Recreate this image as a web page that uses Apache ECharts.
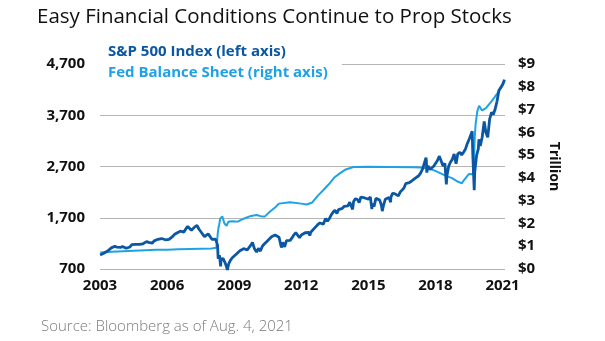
<!DOCTYPE html>
<html><head><meta charset="utf-8">
<script src="https://cdn.jsdelivr.net/npm/echarts@6/dist/echarts.min.js"></script>
<style>html,body{margin:0;padding:0;background:#fff}#c{width:605px;height:341px}</style>
</head><body><div id="c"></div>
<script>
const titleText = 'Easy Financial Conditions Continue to Prop Stocks';
const sourceText = 'Source: Bloomberg as of Aug. 4, 2021';
const seriesNames = ['S&P 500 Index (left axis)', 'Fed Balance Sheet (right axis)'];
const rightAxisName = 'Trillion';
const xTickYears = [2003, 2006, 2009, 2012, 2015, 2018, 2021];
const leftTicks = [700, 1700, 2700, 3700, 4700];
const rightTicks = [0, 1, 2, 3, 4, 5, 6, 7, 8, 9];

// S&P 500 closes [date, level]
const spx = [
['2003-07-01',975],['2003-07-31',990],['2003-08-29',1008],['2003-09-30',996],['2003-10-31',1051],['2003-11-28',1058],['2003-12-31',1112],
['2004-01-30',1131],['2004-02-27',1145],['2004-03-31',1126],['2004-04-30',1107],['2004-05-28',1121],['2004-06-30',1141],['2004-07-30',1102],['2004-08-31',1104],['2004-09-30',1115],['2004-10-29',1130],['2004-11-30',1174],['2004-12-31',1212],
['2005-01-31',1181],['2005-02-28',1204],['2005-03-31',1181],['2005-04-29',1157],['2005-05-31',1192],['2005-06-30',1191],['2005-07-29',1234],['2005-08-31',1220],['2005-09-30',1229],['2005-10-31',1207],['2005-11-30',1249],['2005-12-30',1248],
['2006-01-31',1280],['2006-02-28',1281],['2006-03-31',1295],['2006-04-28',1311],['2006-05-31',1270],['2006-06-30',1270],['2006-07-31',1277],['2006-08-31',1304],['2006-09-29',1336],['2006-10-31',1378],['2006-11-30',1401],['2006-12-29',1418],
['2007-01-31',1438],['2007-02-28',1407],['2007-03-30',1421],['2007-04-30',1482],['2007-05-31',1531],['2007-06-29',1503],['2007-07-31',1455],['2007-08-31',1474],['2007-09-28',1527],['2007-10-09',1565],['2007-10-31',1549],['2007-11-30',1481],['2007-12-31',1468],
['2008-01-31',1379],['2008-02-29',1331],['2008-03-31',1323],['2008-04-30',1386],['2008-05-30',1400],['2008-06-30',1280],['2008-07-31',1267],['2008-08-29',1283],['2008-09-30',1166],['2008-10-10',899],['2008-10-31',969],['2008-11-20',752],['2008-11-28',896],['2008-12-31',903],
['2009-01-30',826],['2009-02-27',735],['2009-03-09',677],['2009-03-31',798],['2009-04-30',873],['2009-05-29',919],['2009-06-30',919],['2009-07-31',987],['2009-08-31',1021],['2009-09-30',1057],['2009-10-30',1036],['2009-11-30',1096],['2009-12-31',1115],
['2010-01-29',1074],['2010-02-26',1104],['2010-03-31',1169],['2010-04-23',1217],['2010-04-30',1187],['2010-05-28',1089],['2010-06-30',1031],['2010-07-02',1022],['2010-07-30',1102],['2010-08-31',1049],['2010-09-30',1141],['2010-10-29',1183],['2010-11-30',1181],['2010-12-31',1258],
['2011-01-31',1286],['2011-02-28',1327],['2011-03-31',1326],['2011-04-29',1364],['2011-05-31',1345],['2011-06-30',1321],['2011-07-29',1292],['2011-08-08',1119],['2011-08-31',1219],['2011-09-30',1131],['2011-10-03',1099],['2011-10-31',1253],['2011-11-30',1247],['2011-12-30',1258],
['2012-01-31',1312],['2012-02-29',1366],['2012-03-30',1408],['2012-04-30',1398],['2012-05-31',1310],['2012-06-01',1278],['2012-06-29',1362],['2012-07-31',1379],['2012-08-31',1407],['2012-09-28',1441],['2012-10-31',1412],['2012-11-15',1353],['2012-11-30',1416],['2012-12-31',1426],
['2013-01-31',1498],['2013-02-28',1515],['2013-03-28',1569],['2013-04-30',1598],['2013-05-31',1631],['2013-06-24',1573],['2013-06-28',1606],['2013-07-31',1686],['2013-08-30',1633],['2013-09-30',1682],['2013-10-31',1757],['2013-11-29',1806],['2013-12-31',1848],
['2014-01-31',1783],['2014-02-28',1859],['2014-03-31',1872],['2014-04-30',1884],['2014-05-30',1924],['2014-06-30',1960],['2014-07-31',1931],['2014-08-29',2003],['2014-09-30',1972],['2014-10-15',1862],['2014-10-31',2018],['2014-11-28',2068],['2014-12-31',2059],
['2015-01-30',1995],['2015-02-27',2105],['2015-03-31',2068],['2015-04-30',2086],['2015-05-29',2107],['2015-06-30',2063],['2015-07-31',2104],['2015-08-25',1868],['2015-08-31',1972],['2015-09-30',1920],['2015-10-30',2079],['2015-11-30',2080],['2015-12-31',2044],
['2016-01-29',1940],['2016-02-11',1829],['2016-02-29',1932],['2016-03-31',2060],['2016-04-29',2065],['2016-05-31',2097],['2016-06-27',2001],['2016-06-30',2099],['2016-07-29',2174],['2016-08-31',2171],['2016-09-30',2168],['2016-10-31',2126],['2016-11-30',2199],['2016-12-30',2239],
['2017-01-31',2279],['2017-02-28',2364],['2017-03-31',2363],['2017-04-28',2384],['2017-05-31',2412],['2017-06-30',2423],['2017-07-31',2470],['2017-08-31',2472],['2017-09-29',2519],['2017-10-31',2575],['2017-11-30',2648],['2017-12-29',2674],
['2018-01-26',2873],['2018-01-31',2824],['2018-02-08',2581],['2018-02-28',2714],['2018-03-29',2641],['2018-04-30',2648],['2018-05-31',2705],['2018-06-29',2718],['2018-07-31',2816],['2018-08-31',2902],['2018-09-20',2931],['2018-09-28',2914],['2018-10-31',2712],['2018-11-30',2760],['2018-12-24',2351],['2018-12-31',2507],
['2019-01-31',2704],['2019-02-28',2784],['2019-03-29',2834],['2019-04-30',2946],['2019-05-31',2752],['2019-06-28',2942],['2019-07-31',2980],['2019-08-30',2926],['2019-09-30',2977],['2019-10-31',3038],['2019-11-29',3141],['2019-12-31',3231],
['2020-01-31',3226],['2020-02-19',3386],['2020-02-28',2954],['2020-03-23',2237],['2020-03-31',2585],['2020-04-30',2912],['2020-05-29',3044],['2020-06-08',3232],['2020-06-30',3100],['2020-07-31',3271],['2020-09-02',3580],['2020-09-30',3363],['2020-10-30',3270],['2020-11-30',3622],['2020-12-31',3756],
['2021-01-29',3714],['2021-02-26',3811],['2021-03-31',3973],['2021-04-30',4181],['2021-05-28',4204],['2021-06-30',4298],['2021-07-30',4395],['2021-08-04',4402]
];

// Fed balance sheet, $ trillion [date, value]
const fed = [
['2003-07-02',0.72],['2004-01-07',0.76],['2004-07-07',0.78],['2005-01-05',0.80],['2005-07-06',0.82],['2006-01-04',0.84],['2006-07-05',0.85],
['2007-01-03',0.87],['2007-07-04',0.88],['2008-01-02',0.89],['2008-06-25',0.90],['2008-09-10',0.93],['2008-09-17',1.11],['2008-09-24',1.22],
['2008-10-01',1.50],['2008-10-15',1.80],['2008-10-29',1.97],['2008-11-12',2.21],['2008-12-17',2.31],['2008-12-31',2.24],['2009-01-21',2.00],
['2009-02-25',1.90],['2009-03-25',2.07],['2009-05-27',2.10],['2009-08-26',2.08],['2009-10-28',2.17],['2009-12-30',2.24],['2010-03-31',2.33],
['2010-06-30',2.37],['2010-09-29',2.30],['2010-11-10',2.30],['2011-01-26',2.50],['2011-04-27',2.70],['2011-06-29',2.87],['2011-12-28',2.93],
['2012-06-27',2.87],['2012-09-26',2.83],['2012-12-26',2.92],['2013-03-27',3.22],['2013-06-26',3.47],['2013-09-25',3.73],['2013-12-25',4.03],
['2014-03-26',4.21],['2014-06-25',4.37],['2014-10-29',4.48],['2015-06-24',4.49],['2016-06-29',4.48],['2017-06-28',4.47],['2017-10-25',4.46],
['2018-03-28',4.40],['2018-06-27',4.31],['2018-12-26',4.08],['2019-03-27',3.99],['2019-06-26',3.84],['2019-09-04',3.76],['2019-09-25',3.86],
['2019-12-25',4.17],['2020-02-26',4.16],['2020-03-11',4.31],['2020-03-18',4.67],['2020-03-25',5.25],['2020-04-01',5.81],['2020-04-15',6.37],
['2020-05-13',6.93],['2020-06-10',7.17],['2020-07-29',6.96],['2020-09-30',7.06],['2020-12-30',7.36],['2021-03-31',7.69],['2021-06-30',8.06],['2021-08-04',8.25]
];

const xStart = 2003.49, xEnd = 2021.6;
function toYear(s) {
  const p = s.split('-').map(Number);
  const a = Date.UTC(p[0], 0, 1), b = Date.UTC(p[0] + 1, 0, 1);
  return p[0] + (Date.UTC(p[0], p[1] - 1, p[2]) - a) / (b - a);
}
const FONT = '"Open Sans", "Noto Sans", sans-serif';
const C_SPX = '#0b57a3', C_FED = '#1ea2e6';

const chart = echarts.init(document.getElementById('c'), null, {renderer: 'canvas'});
chart.setOption({
  animation: false,
  backgroundColor: '#fff',
  title: [
    {text: titleText, left: 32, top: 2, textStyle: {fontFamily: FONT, fontSize: 20.5, fontWeight: 'normal', color: '#111'}},
    {text: sourceText, left: 36, top: 314, textStyle: {fontFamily: FONT, fontSize: 15, fontWeight: 300, color: '#7a7a7a'}}
  ],
  legend: {
    orient: 'vertical', left: 100, top: 42, itemWidth: 0, itemHeight: 0, itemGap: 6, icon: 'none',
    backgroundColor: '#fff', padding: [2, 14, 2, 3],
    selectedMode: false,
    data: [
      {name: seriesNames[0], textStyle: {color: C_SPX}},
      {name: seriesNames[1], textStyle: {color: C_FED}}
    ],
    textStyle: {fontFamily: FONT, fontSize: 15, fontWeight: 'bold'}
  },
  grid: {left: 100, right: 100, top: 64, bottom: 72},
  xAxis: {
    type: 'value', min: xStart, max: xEnd, interval: 3,
    axisLine: {show: false}, axisTick: {show: false}, splitLine: {show: false},
    axisLabel: {
      margin: 9, fontFamily: FONT, fontSize: 15, fontWeight: 'bold', color: '#111',
      showMaxLabel: false,
      formatter: v => { const y = Math.round(v - (xStart - 2003)); return xTickYears.includes(y) && Math.abs(v - (y + xStart - 2003)) < 0.01 ? String(y) : ''; }
    }
  },
  yAxis: [
    {
      type: 'value', min: leftTicks[0], max: leftTicks[leftTicks.length - 1], interval: leftTicks[1] - leftTicks[0],
      axisLine: {show: false}, axisTick: {show: false},
      splitLine: {show: true, lineStyle: {color: '#b5b5b5', width: 1}},
      axisLabel: {margin: 15, fontFamily: FONT, fontSize: 15, fontWeight: 'bold', color: '#111',
        formatter: v => v.toLocaleString('en-US')}
    },
    {
      type: 'value', min: rightTicks[0], max: rightTicks[rightTicks.length - 1], interval: 1,
      position: 'right',
      axisLine: {show: false}, axisTick: {show: false}, splitLine: {show: false},
      axisLabel: {margin: 13, fontFamily: FONT, fontSize: 15, fontWeight: 'bold', color: '#111',
        formatter: v => '$' + v},
      name: rightAxisName, nameLocation: 'middle', nameRotate: -90, nameGap: 42,
      nameTextStyle: {fontFamily: FONT, fontSize: 14, fontWeight: 'bold', color: '#111'}
    }
  ],
  series: [
    {name: seriesNames[1], type: 'line', yAxisIndex: 1, symbol: 'none', z: 2,
      lineStyle: {color: C_FED, width: 2}, itemStyle: {color: C_FED},
      data: fed.map(d => [toYear(d[0]), d[1]])},
    {name: seriesNames[0], type: 'line', yAxisIndex: 0, symbol: 'none', z: 3,
      lineStyle: {color: C_SPX, width: 2.8}, itemStyle: {color: C_SPX},
      data: spx.map(d => [toYear(d[0]), d[1]])}
  ]
});
</script></body></html>
